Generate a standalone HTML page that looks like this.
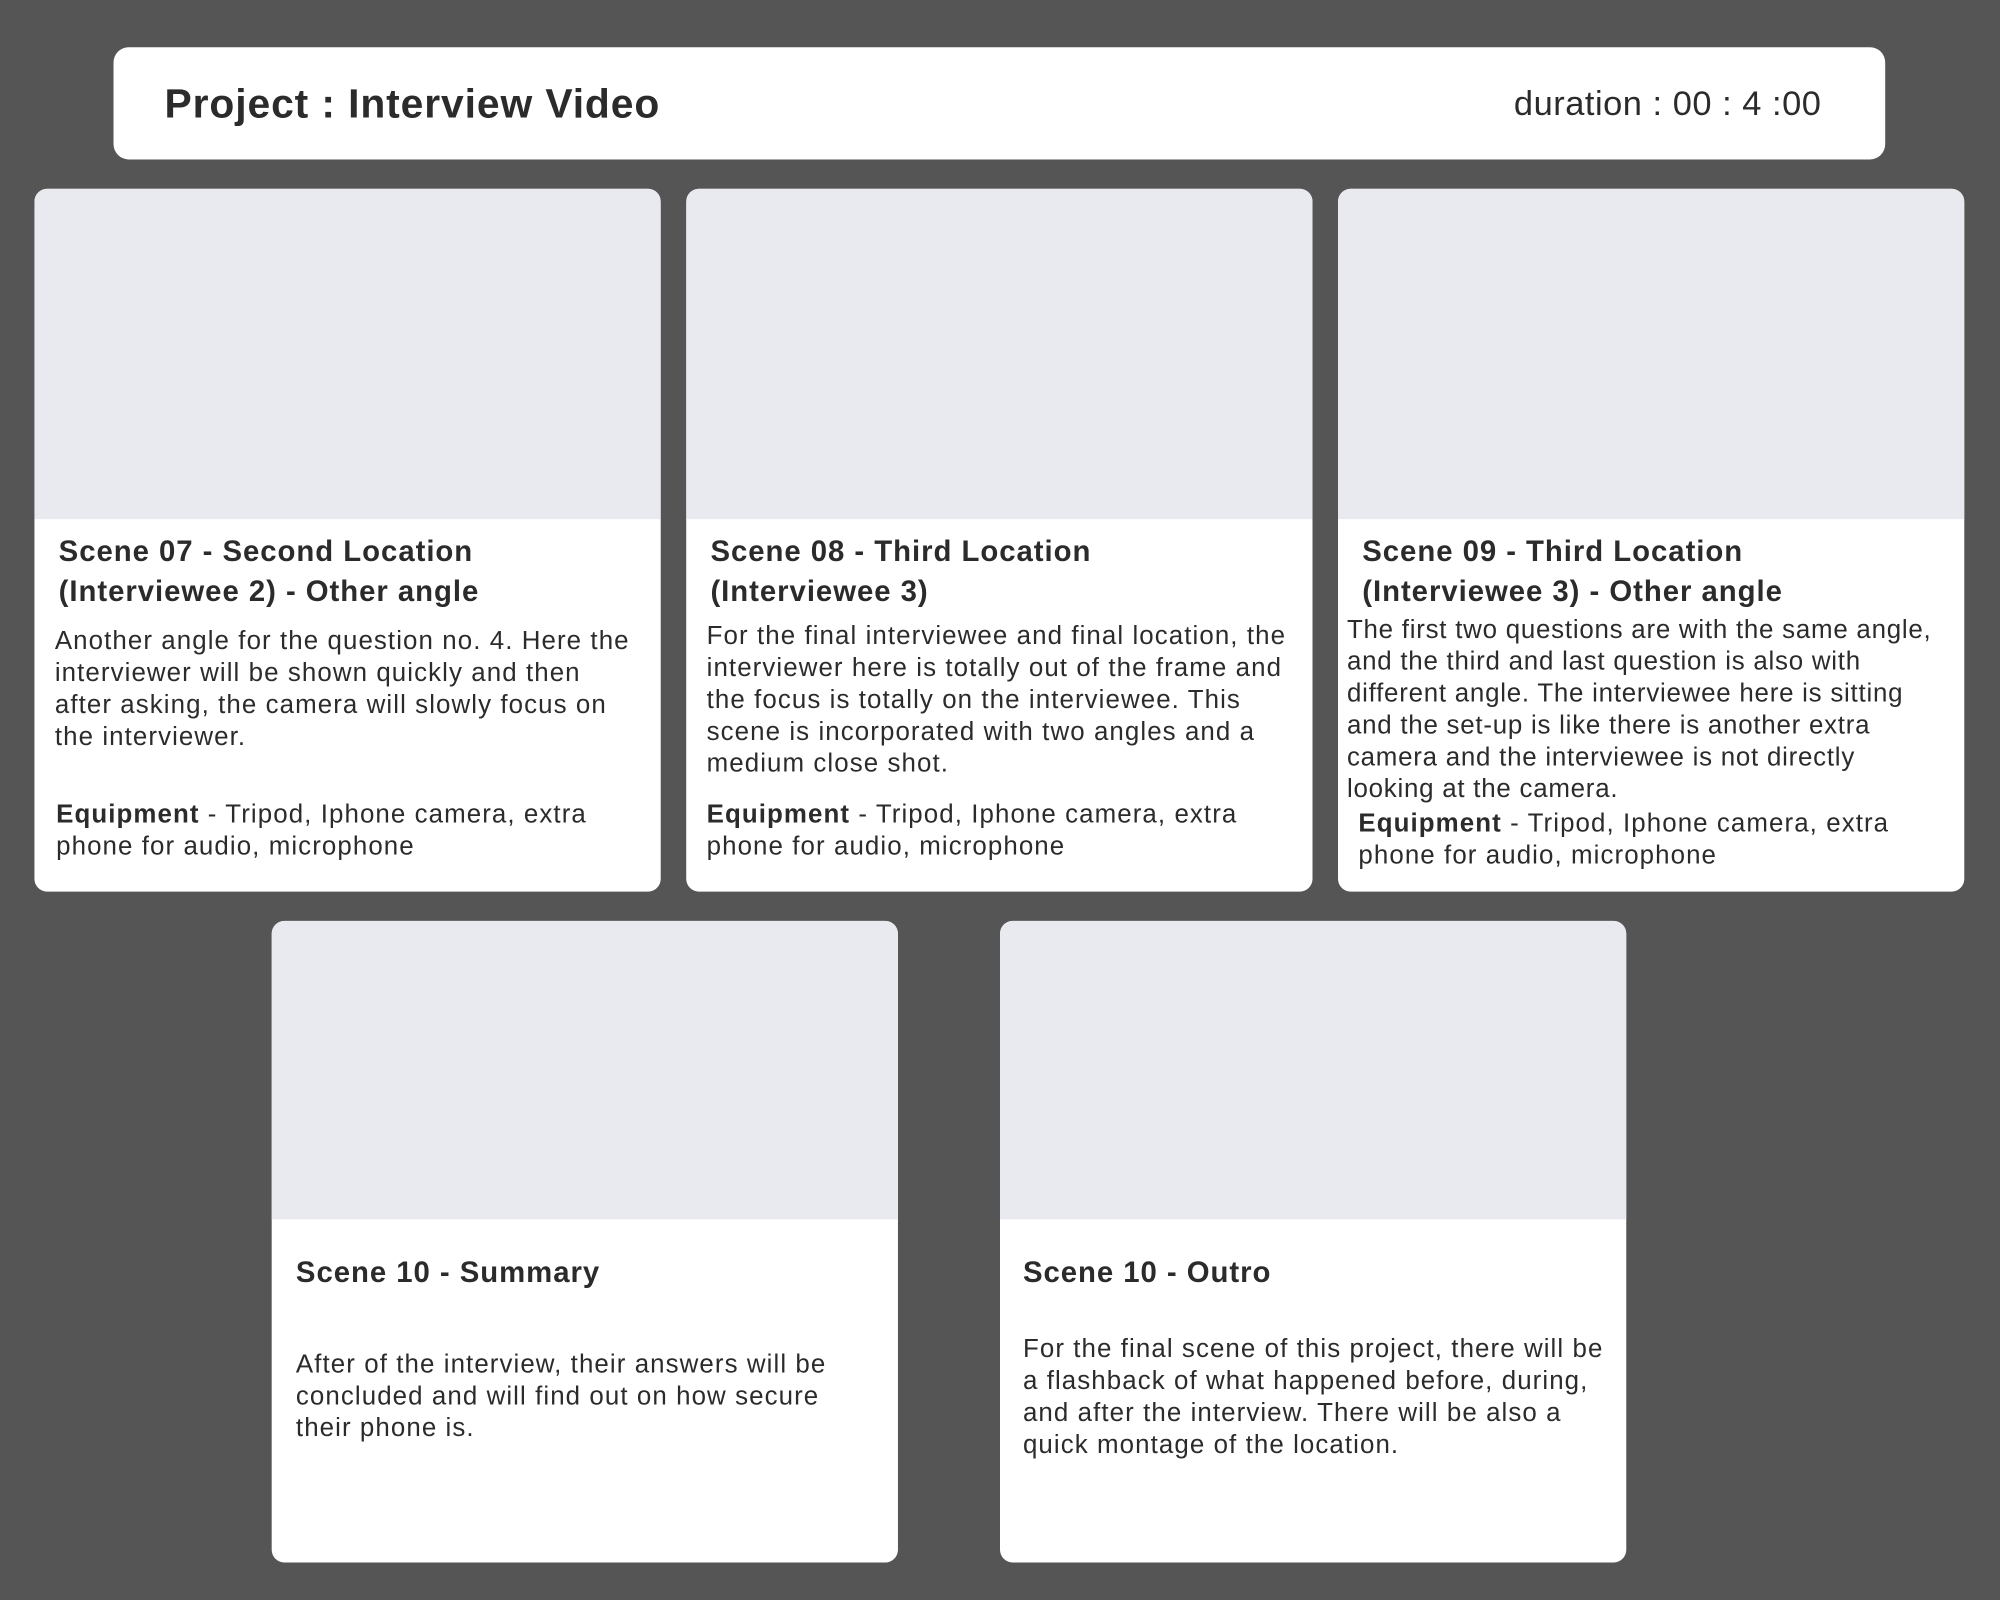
<!DOCTYPE html>
<html><head><meta charset="utf-8"><style>
html,body{margin:0;padding:0;background:#555555;width:2000px;height:1600px;overflow:hidden}
#w{position:absolute;left:0;top:0;width:1568px;height:1254px;transform:scale(1.27551);transform-origin:0 0;font-family:"Liberation Sans",sans-serif;color:#2b2b2b}
.hdr{position:absolute;left:89px;top:37px;width:1389px;height:88px;background:#fff;border-radius:12px}
.card{position:absolute;background:#fff;border-radius:10px;overflow:hidden}
.img{position:absolute;left:0;top:0;right:0;background:#e9eaef}
.t{position:absolute;white-space:nowrap}
.h{font-weight:bold;font-size:23px;line-height:31px;letter-spacing:0.75px}
.b{font-size:20.3px;line-height:25px;letter-spacing:0.85px}
</style></head><body><div id="w">
<div class="hdr"></div>
<div class="t" style="left:129px;top:61px;font-size:32px;font-weight:bold;line-height:40px;letter-spacing:0.7px">Project : Interview Video</div>
<div class="t" style="right:140px;top:61px;font-size:27px;line-height:40px;letter-spacing:0.4px">duration : 00 : 4 :00</div>

<div class="card" style="left:27px;top:148px;width:491px;height:551px"><div class="img" style="height:259px"></div></div>
<div class="card" style="left:538px;top:148px;width:491px;height:551px"><div class="img" style="height:259px"></div></div>
<div class="card" style="left:1049px;top:148px;width:491px;height:551px"><div class="img" style="height:259px"></div></div>
<div class="card" style="left:213px;top:722px;width:491px;height:503px"><div class="img" style="height:234px"></div></div>
<div class="card" style="left:784px;top:722px;width:491px;height:503px"><div class="img" style="height:234px"></div></div>

<div class="t h" style="left:46px;top:417px">Scene 07 - Second Location<br>(Interviewee 2) - Other angle</div>
<div class="t b" style="left:43px;top:491px">Another angle for the question no. 4. Here the<br>interviewer will be shown quickly and then<br>after asking, the camera will slowly focus on<br>the interviewer.</div>
<div class="t b" style="left:44px;top:627px"><b>Equipment</b> - Tripod, Iphone camera, extra<br>phone for audio, microphone</div>

<div class="t h" style="left:557px;top:417px">Scene 08 - Third Location<br>(Interviewee 3)</div>
<div class="t b" style="left:554px;top:487px">For the final interviewee and final location, the<br>interviewer here is totally out of the frame and<br>the focus is totally on the interviewee. This<br>scene is incorporated with two angles and a<br>medium close shot.</div>
<div class="t b" style="left:554px;top:627px"><b>Equipment</b> - Tripod, Iphone camera, extra<br>phone for audio, microphone</div>

<div class="t h" style="left:1068px;top:417px">Scene 09 - Third Location<br>(Interviewee 3) - Other angle</div>
<div class="t b" style="left:1056px;top:482px;letter-spacing:0.6px">The first two questions are with the same angle,<br>and the third and last question is also with<br>different angle. The interviewee here is sitting<br>and the set-up is like there is another extra<br>camera and the interviewee is not directly<br>looking at the camera.</div>
<div class="t b" style="left:1065px;top:634px"><b>Equipment</b> - Tripod, Iphone camera, extra<br>phone for audio, microphone</div>

<div class="t h" style="left:232px;top:982px">Scene 10 - Summary</div>
<div class="t b" style="left:232px;top:1058px">After of the interview, their answers will be<br>concluded and will find out on how secure<br>their phone is.</div>

<div class="t h" style="left:802px;top:982px">Scene 10 - Outro</div>
<div class="t b" style="left:802px;top:1046px">For the final scene of this project, there will be<br>a flashback of what happened before, during,<br>and after the interview. There will be also a<br>quick montage of the location.</div>
</div></body></html>
